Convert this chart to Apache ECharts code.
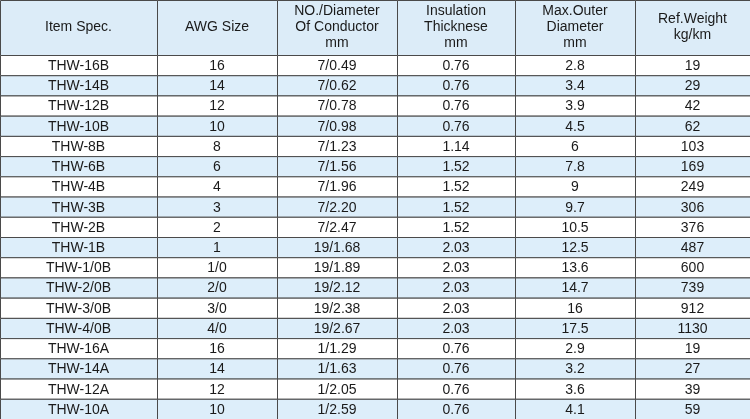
<!DOCTYPE html><html><head><meta charset="utf-8">
<script src="https://cdn.jsdelivr.net/npm/echarts@6/dist/echarts.min.js"></script>
<style>html,body{margin:0;padding:0;background:#fff}#c{width:750px;height:419px}</style></head><body><div id="c"></div>
<script>
const headers = ["Item Spec.","AWG Size","NO./Diameter\nOf Conductor\nmm","Insulation\nThicknese\nmm","Max.Outer\nDiameter\nmm","Ref.Weight\nkg/km"];
const itemSpec = ["THW-16B","THW-14B","THW-12B","THW-10B","THW-8B","THW-6B","THW-4B","THW-3B","THW-2B","THW-1B","THW-1/0B","THW-2/0B","THW-3/0B","THW-4/0B","THW-16A","THW-14A","THW-12A","THW-10A"];
const awgSize = ["16","14","12","10","8","6","4","3","2","1","1/0","2/0","3/0","4/0","16","14","12","10"];
const conductor = ["7/0.49","7/0.62","7/0.78","7/0.98","7/1.23","7/1.56","7/1.96","7/2.20","7/2.47","19/1.68","19/1.89","19/2.12","19/2.38","19/2.67","1/1.29","1/1.63","1/2.05","1/2.59"];
const insulation = ["0.76","0.76","0.76","0.76","1.14","1.52","1.52","1.52","1.52","2.03","2.03","2.03","2.03","2.03","0.76","0.76","0.76","0.76"];
const maxOuter = ["2.8","3.4","3.9","4.5","6","7.8","9","9.7","10.5","12.5","13.6","14.7","16","17.5","2.9","3.2","3.6","4.1"];
const refWeight = ["19","29","42","62","103","169","249","306","376","487","600","739","912","1130","19","27","39","59"];
const colEdges = [0,157,277,397,515,635,750];
const columns = [itemSpec,awgSize,conductor,insulation,maxOuter,refWeight];
const bodyData = [];
columns.forEach((col,c)=>col.forEach((v,r)=>bodyData.push([c,r,v])));
const headData = headers.map((h,c)=>[c,0,h]);
function render(isHead){
  return function(params, api){
    const c = api.value(0), r = api.value(1);
    const p0 = api.coord([colEdges[c], r]);
    const p1 = api.coord([colEdges[c+1], r]);
    const h = api.size([0,1])[1];
    const x=p0[0], y=p0[1]-h/2, w=p1[0]-p0[0];
    const fill = isHead ? '#dcecf8' : (r%2===0 ? '#ffffff' : '#ddeefa');
    return {type:'group',children:[
      {type:'rect',shape:{x:x+0.5,y:y+0.5,width:w,height:h},style:{fill:fill,stroke:'#4a4a4a',lineWidth:1}},
      {type:'text',style:{x:x+w/2,y:y+h/2+(isHead?0:1),text:api.value(2),align:'center',verticalAlign:'middle',
        fill:'#1a1a1a',font:'14px "Liberation Sans", Arial, sans-serif',lineHeight:16}}
    ]};
  };
}
const chart = echarts.init(document.getElementById('c'));
chart.setOption({
  animation:false,
  grid:[{left:0,right:0,top:-1,height:56},{left:0,right:0,top:55,bottom:0}],
  xAxis:[{gridIndex:0,type:'value',min:0,max:750,show:false},{gridIndex:1,type:'value',min:0,max:750,show:false}],
  yAxis:[{gridIndex:0,type:'category',data:['h'],show:false},
         {gridIndex:1,type:'category',inverse:true,data:itemSpec.map((_,i)=>i),show:false}],
  series:[
    {type:'custom',xAxisIndex:0,yAxisIndex:0,renderItem:render(true),data:headData,encode:{x:0,y:1}},
    {type:'custom',xAxisIndex:1,yAxisIndex:1,renderItem:render(false),data:bodyData,encode:{x:0,y:1}}
  ]
});
</script></body></html>
